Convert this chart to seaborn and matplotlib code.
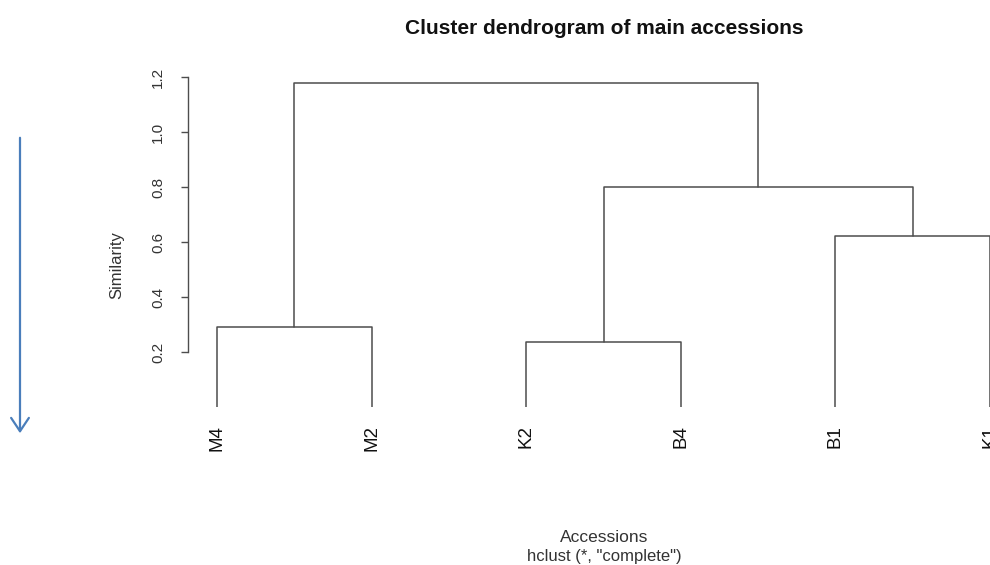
"""Cluster dendrogram of main accessions, R hclust style."""

import matplotlib
matplotlib.use("Agg")
import matplotlib.pyplot as plt
import numpy as np
import pandas as pd
import seaborn as sns

# leaves in plotting order
leaf_labels = ["M4", "M2", "K2", "B4", "B1", "K1"]

# merges in R hclust notation: negative = leaf (1-based), positive = earlier merge
merge_left = [-1, -3, -5, 2, 1]
merge_right = [-2, -4, -6, 3, 4]
merge_heights = [0.29, 0.235, 0.62, 0.80, 1.178]

y_ticks = [0.2, 0.4, 0.6, 0.8, 1.0, 1.2]

LINE_COLOR = "#4d4d4d"
TEXT_COLOR = "#333333"


def build_segments() -> pd.DataFrame:
    node_x = {}
    node_h = {}
    for i in range(len(leaf_labels)):
        node_x[-(i + 1)] = i + 1.0
        node_h[-(i + 1)] = 0.0
    rows = []
    for k, (a, b, h) in enumerate(zip(merge_left, merge_right, merge_heights)):
        xa, xb = node_x[a], node_x[b]
        pts = [(xa, node_h[a]), (xa, h), (xb, h), (xb, node_h[b])]
        for order, (x, y) in enumerate(pts):
            rows.append({"seg": k, "order": order, "x": x, "y": y})
        node_x[k + 1] = (xa + xb) / 2
        node_h[k + 1] = h
    return pd.DataFrame(rows)


def main() -> None:
    sns.set_theme(style="white")
    plt.rcParams["font.family"] = ["Liberation Sans", "DejaVu Sans"]

    fig = plt.figure(figsize=(9.9, 5.65), dpi=100)
    W, H = 990, 565
    # axes: x from 200px to 990px, y from 77px (1.2) to 407px (0.0)
    ax = fig.add_axes([200 / W, (H - 407) / H, 790 / W, 330 / H])

    seg_df = build_segments()
    sns.lineplot(
        data=seg_df, x="x", y="y", units="seg", estimator=None, sort=False,
        color=LINE_COLOR, linewidth=1.1, ax=ax, legend=False,
    )

    px_per_unit = 154.6
    ax.set_xlim(1 - 17 / px_per_unit, 1 + 773 / px_per_unit)
    ax.set_ylim(0, 1.2)

    for side in ("top", "right", "bottom"):
        ax.spines[side].set_visible(False)
    ax.spines["left"].set_position(("outward", 9))
    ax.spines["left"].set_bounds(0.2, 1.2)
    ax.spines["left"].set_color(LINE_COLOR)
    ax.spines["left"].set_linewidth(1.0)

    ax.set_yticks(y_ticks)
    ax.set_yticklabels([f"{v:.1f}" for v in y_ticks], rotation=90, va="center")
    ax.tick_params(axis="y", direction="out", length=5, width=1.0, color=LINE_COLOR,
                   pad=11, labelsize=11, labelcolor=TEXT_COLOR, left=True)

    ax.set_xticks(range(1, len(leaf_labels) + 1))
    ax.set_xticklabels(leaf_labels, rotation=90, va="top")
    ax.tick_params(axis="x", length=0, pad=13, labelsize=13.5, labelcolor="#111111")

    ax.set_xlabel("")
    ax.set_ylabel("")
    ax.grid(False)

    fig.text(604 / W, 1 - 28 / H, "Cluster dendrogram of main accessions",
             ha="center", va="center", fontsize=15, fontweight="bold", color="#111111")
    fig.text(117 / W, 1 - 265 / H, "Similarity", rotation=90, ha="center", va="center",
             fontsize=12, color=TEXT_COLOR)
    fig.text(604 / W, 1 - 537 / H, "Accessions", ha="center", va="center",
             fontsize=12.5, color=TEXT_COLOR)
    fig.text(604 / W, 1 - 556 / H, 'hclust (*, "complete")', ha="center", va="center",
             fontsize=12, color=TEXT_COLOR)

    # blue arrow on the left margin
    fig.add_artist(matplotlib.patches.FancyArrowPatch(
        (20 / W, 1 - 135 / H), (20 / W, 1 - 436 / H), transform=fig.transFigure,
        arrowstyle="->,head_length=6,head_width=4", color="#4a7ebb", linewidth=1.6,
        mutation_scale=1.6,
    ))

    fig.savefig("out.png", dpi=100)
    plt.close(fig)


if __name__ == "__main__":
    main()
